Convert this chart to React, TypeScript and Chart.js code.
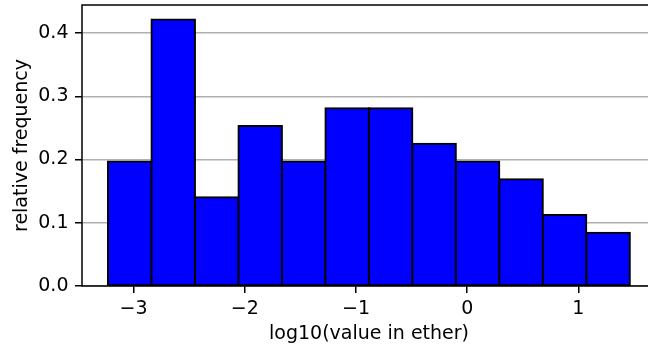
import React, { useEffect, useRef } from "react";
import { Chart, registerables } from "chart.js";

Chart.register(...registerables);

// Histogram bin edges (log10 of value in ether)
const binEdges = [-3.230, -2.839, -2.448, -2.057, -1.666, -1.275, -0.884, -0.493, -0.102, 0.289, 0.680, 1.071, 1.463];
// Relative frequency (density) of each bin
const frequencies = [0.1967, 0.4215, 0.1405, 0.2529, 0.1967, 0.2810, 0.2810, 0.2248, 0.1967, 0.1686, 0.1124, 0.0843];
const xTicks = [-3, -2, -1, 0, 1];
const yTicks = [0.0, 0.1, 0.2, 0.3, 0.4];
const xLimits = [-3.4636, 1.6976];
const yLimits = [0, 0.4443];

const FONT = "'DejaVu Sans', sans-serif";
const FS = 19;

const spinesPlugin = {
  id: "spines",
  afterDatasetsDraw(chart: any) {
    const { ctx, chartArea } = chart;
    const { left, top, right, bottom } = chartArea;
    ctx.save();
    ctx.strokeStyle = "#000";
    ctx.lineWidth = 1.5;
    ctx.lineCap = "square";
    ctx.beginPath();
    ctx.moveTo(left, bottom);
    ctx.lineTo(left, top);
    ctx.lineTo(right, top);
    ctx.lineTo(right, bottom);
    ctx.lineTo(left, bottom);
    ctx.stroke();
    ctx.restore();
  },
};

export default function App() {
  const ref = useRef<HTMLCanvasElement | null>(null);
  useEffect(() => {
    if (!ref.current) return;
    const points = frequencies.map((f, i) => ({ x: (binEdges[i] + binEdges[i + 1]) / 2, y: f }));
    const chart = new Chart(ref.current, {
      type: "bar",
      data: {
        datasets: [
          {
            data: points as any,
            backgroundColor: "#0000ff",
            borderColor: "#000000",
            borderWidth: 2,
            inflateAmount: 1,
            borderSkipped: false,
            barPercentage: 1,
            categoryPercentage: 1,
          } as any,
        ],
      },
      options: {
        responsive: false,
        animation: false,
        devicePixelRatio: 1,
        layout: { padding: { top: 5, right: 4, left: 0, bottom: 0 } },
        plugins: { legend: { display: false }, tooltip: { enabled: false } },
        scales: {
          x: {
            type: "linear",
            min: xLimits[0],
            max: xLimits[1],
            offset: false,
            afterFit: (s: any) => { s.height = 61; s.paddingLeft = 0; s.paddingRight = 0; },
            afterBuildTicks: (s: any) => { s.ticks = xTicks.map((v) => ({ value: v })); },
            grid: { offset: false, drawOnChartArea: false, tickColor: "#000", tickLength: 7, tickWidth: 1.5, lineWidth: 1.5 },
            border: { display: false },
            ticks: {
              padding: 5,
              color: "#000",
              font: { family: FONT, size: FS },
              maxRotation: 0,
              callback: (v: any) => (v < 0 ? "\u2212" + Math.abs(v) : String(v)),
            },
            title: {
              display: true,
              text: "log10(value in ether)",
              color: "#000",
              font: { family: FONT, size: FS },
              padding: { top: 0, bottom: 1.5 },
            },
          },
          y: {
            type: "linear",
            min: yLimits[0],
            max: yLimits[1],
            afterFit: (s: any) => { s.width = 82; s.paddingTop = 0; s.paddingBottom = 0; },
            afterBuildTicks: (s: any) => { s.ticks = yTicks.map((v) => ({ value: v })); },
            grid: { color: "#b0b0b0", lineWidth: 1.5, tickColor: "#000", tickLength: 7, tickWidth: 1.5 },
            border: { display: false },
            ticks: {
              padding: 6.5,
              color: "#000",
              font: { family: FONT, size: FS },
              callback: (v: any) => Number(v).toFixed(1),
            },
            title: {
              display: true,
              text: "relative frequency",
              color: "#000",
              font: { family: FONT, size: FS },
              padding: { top: 11, bottom: 0 },
            },
          },
        },
      },
      plugins: [spinesPlugin],
    });
    return () => chart.destroy();
  }, []);
  return (
    <div style={{ position: "absolute", left: 0, top: 0, width: 648, height: 347, overflow: "hidden", background: "#fff" }}>
      <canvas ref={ref} width={660} height={347} style={{ display: "block", width: 660, height: 347 }} />
    </div>
  );
}
